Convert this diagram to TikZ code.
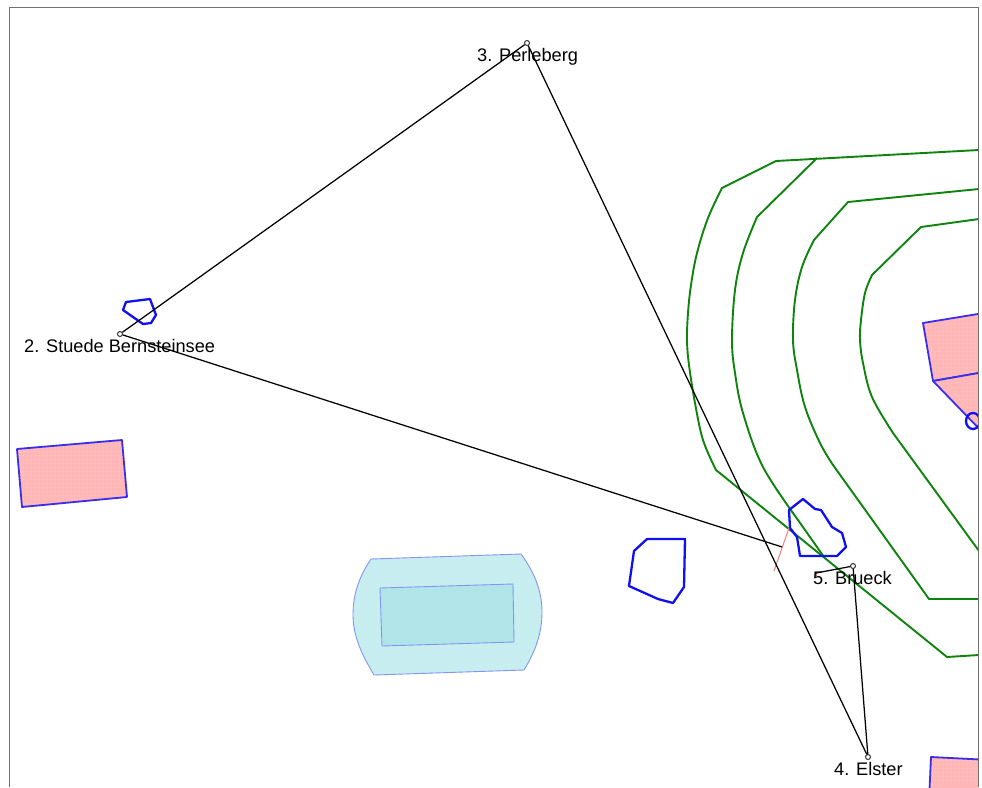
\documentclass[tikz,border=0pt]{standalone}
\usepackage{fontspec}
\usetikzlibrary{patterns.meta}
\setmainfont{Liberation Sans}
\definecolor{framegray}{HTML}{707070}
\definecolor{pinkfill}{HTML}{FFB7B7}
\definecolor{pinkdot}{HTML}{FFC6C6}
\definecolor{pinkline}{HTML}{3A2EEA}
\definecolor{lakeblue}{HTML}{1010F0}
\definecolor{greenline}{HTML}{0E830E}
\definecolor{cyanouter}{HTML}{C6EDEF}
\definecolor{cyaninner}{HTML}{AFE4E8}
\definecolor{cyandot}{HTML}{D6F4F5}
\definecolor{cyandotin}{HTML}{BDEBEE}
\definecolor{cyanline}{HTML}{8496F2}
\definecolor{redline}{HTML}{F08080}
\tikzset{
  pinkarea/.style={draw=pinkline,line width=1.8pt,line join=round,
    preaction={fill=pinkfill},
    preaction={pattern={Dots[distance=4pt,radius=0.7pt]},pattern color=pinkdot}},
  cyanareaouter/.style={draw=cyanline,line width=0.9pt,
    preaction={fill=cyanouter},
    preaction={pattern={Dots[distance=3pt,radius=0.6pt]},pattern color=cyandot}},
  cyanareainner/.style={draw=cyanline,line width=0.9pt,
    preaction={fill=cyaninner},
    preaction={pattern={Dots[distance=3pt,radius=0.6pt]},pattern color=cyandotin}},
  lake/.style={draw=lakeblue,line width=2.3pt,line join=round},
  contour/.style={draw=greenline,line width=1.9pt,line join=round},
  route/.style={draw=black,line width=1.25pt},
  station/.style={circle,draw=black!80,line width=1pt,inner sep=0pt,minimum size=5pt},
  stationlabel/.style={anchor=base west,inner sep=0pt,font=\fontsize{18.2}{22}\selectfont},
  framestyle/.style={draw=framegray,line width=1pt},
  arcs/.style={smooth,tension=0.6}
}
\begin{document}
\begin{tikzpicture}[x=1pt,y=-1pt]
\useasboundingbox (0,0) rectangle (982,787);
\fill[white] (0,0) rectangle (982,787);
\begin{scope}
\clip (9.5,7.5) rectangle (978.5,787);
% pink areas
\path[pinkarea] (17,449) -- (122,440) -- (127,497) -- (22,507) -- cycle;
\path[pinkarea] (923,323) -- (990,312) -- (990,371) -- (933,381) -- cycle;
\path[pinkarea] (933,381) -- (990,371) -- (990,440) -- cycle;
\path[pinkarea] (931,757) -- (990,760) -- (990,800) -- (929,800) -- cycle;
% cyan areas
\path[cyanareaouter] (371,559) -- (521,554)
  .. controls (535,573) and (542,592) .. (542,612)
  .. controls (542,634) and (535,652) .. (524,670)
  -- (374,675)
  .. controls (362,655) and (353,636) .. (353,615)
  .. controls (353,594) and (359,577) .. (371,559) -- cycle;
\path[cyanareainner] (380,588) -- (513,584) -- (514,642) -- (382,646) -- cycle;
% contours
\path[contour] (979,150) -- (776,161) -- (722,188) -- plot[arcs] coordinates {(722,188) (708,218) (697,253) (691,285) (688,313) (687,340) (689,365) (695,403) (703,440) (716,470)} -- (947,657) -- (979,655);
\path[contour] (817,158) -- (757,217) -- plot[arcs] coordinates {(757,217) (743,253) (735,290) (732,340) (735,373) (743,413) (763,467) (798,520)} -- (824,557);
\path[contour] (979,189) -- (848,202) -- (814,240) -- plot[arcs] coordinates {(814,240) (802,267) (795,300) (793,340) (797,370) (805,407) (820,443) (833,465)} -- (929,599) -- (979,599);
\path[contour] (979,219) -- (921,227) -- (872,275) -- plot[arcs] coordinates {(872,275) (865,293) (861,320) (860,340) (863,363) (872,397) (893,433)} -- (979,551);
% lakes
\path[lake] (126,302) -- (150,299) -- (156,315) -- (151,323) -- (143,324) -- (123,310) -- cycle;
\path[lake] (647,539) -- (685,539) -- (684,587) -- (673,603) -- (658,599) -- (629,586) -- (634,551) -- cycle;
\path[lake] (789,510) -- (803,499) -- (815,509) -- (821,510) -- (832,527) -- (842,533) -- (846,547) -- (837,556) -- (800,556) -- (797,537) -- (790,528) -- cycle;
\path[lake] (973,421) ellipse [x radius=7,y radius=8];
\end{scope}
% red ticks
\coordinate (redtop) at (789,528);
\coordinate (redbottom) at (774,571);
\draw[redline,line width=1pt] (redtop) -- (redbottom);
\coordinate (redsmalla) at (815.7,572.5);
\coordinate (redsmallb) at (816.2,576);
\draw[red!70!black,line width=1pt] (redsmalla) -- (redsmallb);
% stations
\node[station] (s2) at (120,334) {};
\node[station] (s3) at (527,43) {};
\node[station] (s4) at (868,757) {};
\node[station] (s5) at (853,566) {};
\coordinate (routestart) at (816,573);
\coordinate (routeend) at (782,547);
\draw[route] (routestart) -- (s5);
\draw[route] (s5) -- (s4);
\draw[route] (s4) -- (s3);
\draw[route] (s3) -- (s2);
\draw[route] (s2) -- (routeend);
% labels
\node[stationlabel] (l2) at (24,352) {2. Stuede Bernsteinsee};
\node[stationlabel] (l3) at (477,61) {3. Perleberg};
\node[stationlabel] (l4) at (834,775) {4. Elster};
\node[stationlabel] (l5) at (813,584) {5. Brueck};
% frame
\draw[framestyle] (9.5,787) -- (9.5,7.5) -- (978.5,7.5) -- (978.5,787);
\end{tikzpicture}
\end{document}
